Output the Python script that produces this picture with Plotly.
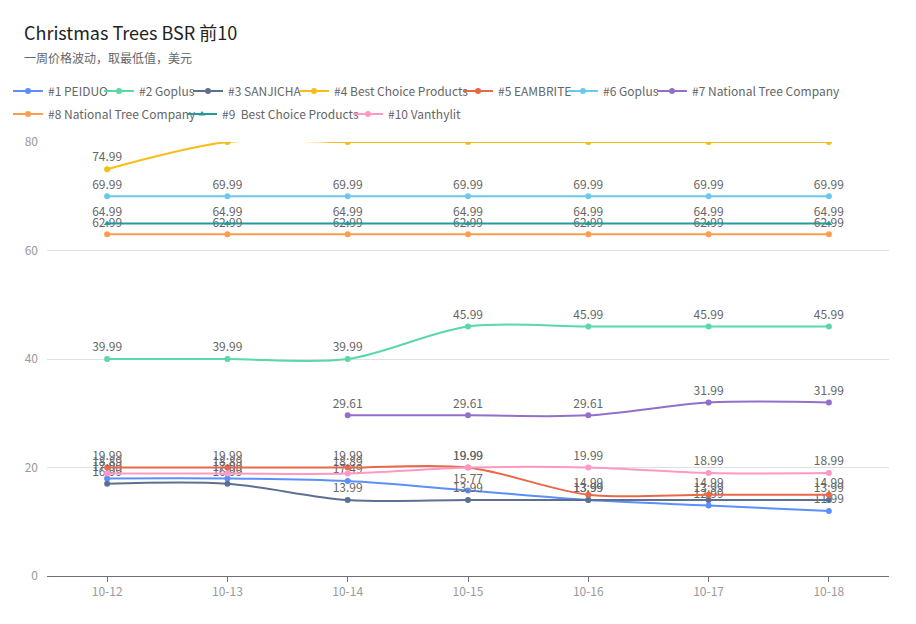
import plotly.graph_objects as go

dates = ["10-12", "10-13", "10-14", "10-15", "10-16", "10-17", "10-18"]

names = ["#1 PEIDUO", "#2 Goplus", "#3 SANJICHA", "#4 Best Choice Products",
         "#5 EAMBRITE", "#6 Goplus", "#7 National Tree Company",
         "#8 National Tree Company", "#9  Best Choice Products", "#10 Vanthylit"]

s1_peiduo = [17.99, 17.99, 17.49, 15.77, 13.99, 12.99, 11.99]
s2_goplus = [39.99, 39.99, 39.99, 45.99, 45.99, 45.99, 45.99]
s3_sanjicha = [16.99, 16.99, 13.99, 13.99, 13.99, 13.99, 13.99]
s4_bestchoice = [74.99, 80, 80, 80, 80, 80, 80]  # later points sit at/over the axis max
s5_eambrite = [19.99, 19.99, 19.99, 19.99, 14.99, 14.99, 14.99]
s6_goplus = [69.99, 69.99, 69.99, 69.99, 69.99, 69.99, 69.99]
s7_national = [None, None, 29.61, 29.61, 29.61, 31.99, 31.99]
s8_national = [62.99, 62.99, 62.99, 62.99, 62.99, 62.99, 62.99]
s9_bestchoice = [64.99, 64.99, 64.99, 64.99, 64.99, 64.99, 64.99]
s10_vanthylit = [18.89, 18.89, 18.89, 19.99, 19.99, 18.99, 18.99]

series = [s1_peiduo, s2_goplus, s3_sanjicha, s4_bestchoice, s5_eambrite,
          s6_goplus, s7_national, s8_national, s9_bestchoice, s10_vanthylit]

colors = ["#5B8FF9", "#5AD8A6", "#5D7092", "#F6BD16", "#E8684A",
          "#6DC8EC", "#9270CA", "#FF9D4D", "#269A99", "#FF99C3"]

Y_MAX = 80
FONT = "Noto Sans CJK SC, Noto Sans, sans-serif"

# the page body adds an 8px offset, so the figure is laid out 8px up/left
OFF = 8
W, H = 916 - OFF, 624 - OFF
PLOT_L, PLOT_R, PLOT_T, PLOT_B = 46.5 - OFF, 889.5 - OFF, 142 - OFF, 576 - OFF
L, R, T, B = PLOT_L, W - PLOT_R, PLOT_T, H - PLOT_B
PW, PH = W - L - R, H - T - B

# legend entry placement (text-start x, row centre y) in reference pixels
legend_pos = [(45, 91), (139, 91), (228, 91), (334, 91), (498, 91), (603, 91),
              (692, 91), (45, 114), (222, 114), (388, 114)]

fig = go.Figure()
legend_layout = {}
for i, (nm, vals, col) in enumerate(zip(names, series, colors)):
    texts = [("" if (v is None or v >= Y_MAX) else f"{v:.2f}") for v in vals]
    lg = "legend" if i == 0 else f"legend{i + 1}"
    fig.add_trace(go.Scatter(
        x=dates, y=vals, name=nm, mode="lines+markers+text",
        text=texts, textposition="top center",
        textfont=dict(size=12, color="#666", family=FONT),
        line=dict(color=col, width=2, shape="spline", smoothing=0.9),
        marker=dict(color=col, size=6,
                    symbol="triangle-up" if i == 8 else "circle"),
        legend=lg,
        connectgaps=False,
    ))
    tx, ty = legend_pos[i]
    legend_layout[lg] = dict(
        orientation="h", xref="container", yref="container",
        x=(tx - OFF - 40) / W, y=1 - (ty - OFF) / H,
        xanchor="left", yanchor="middle",
        font=dict(size=12, color="#666", family=FONT),
        itemwidth=30, bgcolor="rgba(0,0,0,0)", borderwidth=0)

fig.update_layout(
    width=W, height=H,
    margin=dict(l=L, r=R, t=T, b=B, pad=0, autoexpand=False),
    paper_bgcolor="white", plot_bgcolor="white",
    font=dict(family=FONT, size=12, color="#666"),
    showlegend=True,
    xaxis=dict(type="category", range=[-0.5, 6.5], showgrid=False,
               showline=True, linecolor="#6E7079", linewidth=1,
               ticks="outside", ticklen=5, tickcolor="#6E7079",
               tickfont=dict(size=12, color="#999", family=FONT),
               zeroline=False, fixedrange=True),
    yaxis=dict(range=[0, Y_MAX], tickvals=[0, 20, 40, 60, 80],
               showgrid=True, gridcolor="#E0E0E0", gridwidth=1,
               showline=False, zeroline=False, ticks="",
               tickfont=dict(size=12, color="#999", family=FONT),
               ticklabelstandoff=8, fixedrange=True),
    annotations=[
        dict(text="Christmas Trees BSR 前10", xref="paper", yref="paper",
             x=(21 - OFF - L) / PW, y=(H - B - (32 - OFF)) / PH,
             xanchor="left", yanchor="middle", showarrow=False,
             font=dict(size=18, color="#222", family=FONT)),
        dict(text="一周价格波动，取最低值，美元", xref="paper", yref="paper",
             x=(21 - OFF - L) / PW, y=(H - B - (57 - OFF)) / PH,
             xanchor="left", yanchor="middle", showarrow=False,
             font=dict(size=12, color="#666", family=FONT)),
    ],
    **legend_layout,
)

fig.write_html("out.html")
